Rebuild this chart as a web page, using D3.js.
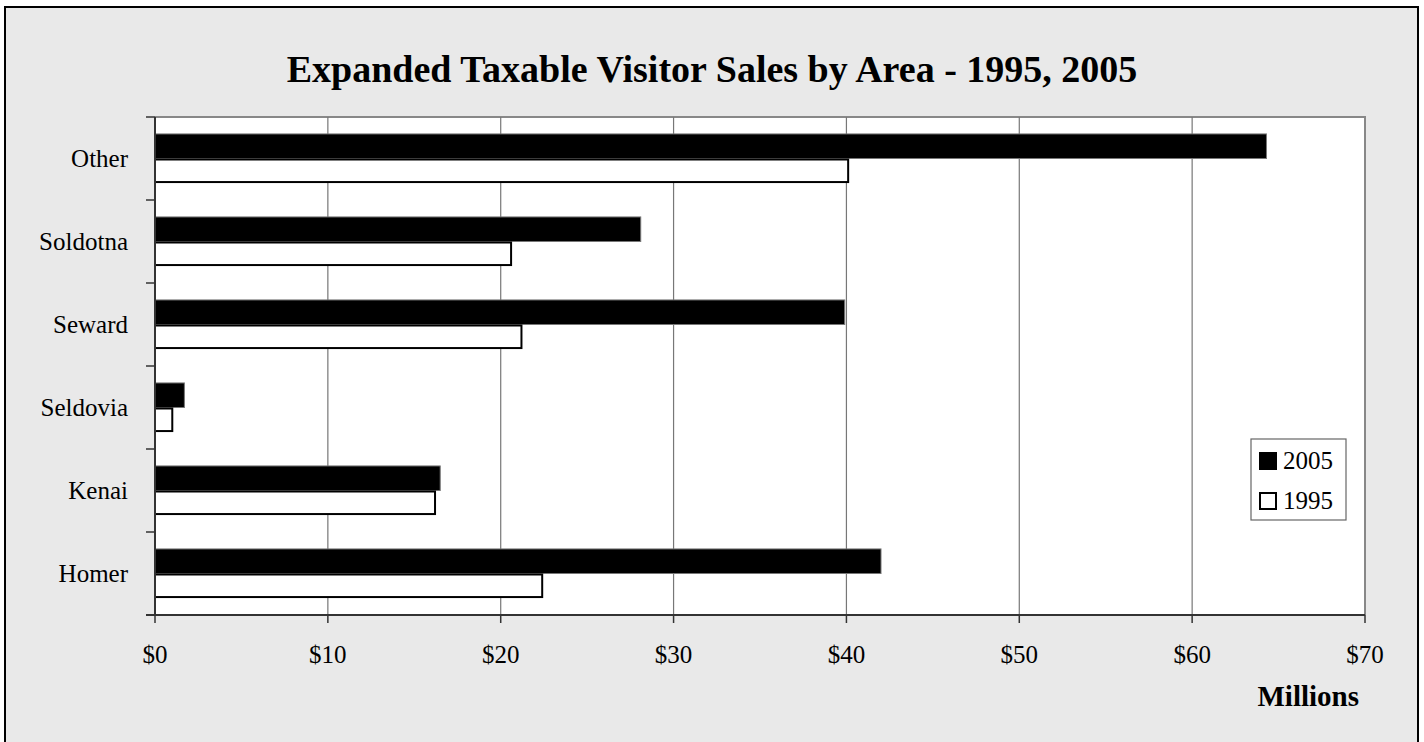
<!DOCTYPE html>
<html><head><meta charset="utf-8">
<script src="https://cdn.jsdelivr.net/npm/d3@7"></script>
<style>body{margin:0;background:#fff}svg{display:block}text{font-family:"Liberation Serif","Times New Roman",serif}</style>
</head><body>
<script>
const categories = ["Other","Soldotna","Seward","Seldovia","Kenai","Homer"];
const series = ["2005","1995"];
const values2005 = [64.3, 28.1, 39.9, 1.7, 16.5, 42.0];
const values1995 = [40.1, 20.6, 21.2, 1.0, 16.2, 22.4];
const xTicks = [0,10,20,30,40,50,60,70];
const tickLabels = ["$0","$10","$20","$30","$40","$50","$60","$70"];
const title = "Expanded Taxable Visitor Sales by Area - 1995, 2005";
const axisTitle = "Millions";

const W = 1424, H = 742;
const svg = d3.select("body").append("svg").attr("width", W).attr("height", H);
svg.append("rect").attr("x",5).attr("y",7).attr("width",1413).attr("height",760)
  .attr("fill","#e9e9e9").attr("stroke","#000").attr("stroke-width",2);

const L = 155, R = 1365, T = 117, B = 615;
const x = d3.scaleLinear().domain([0,70]).range([L,R]);
const y = d3.scaleBand().domain(categories).range([T,B]).padding(0);
const sub = d3.scaleBand().domain(series).range([0,y.bandwidth()]).paddingInner(0).paddingOuter(0.69);

svg.append("rect").attr("x",L).attr("y",T).attr("width",R-L).attr("height",B-T).attr("fill","#fff");
svg.append("path").attr("d",`M${L},${T}H${R}V${B}`).attr("fill","none").attr("stroke","#888").attr("stroke-width",2);
svg.append("g").selectAll("line").data(xTicks.slice(1,-1)).join("line")
  .attr("x1",d=>x(d)).attr("x2",d=>x(d)).attr("y1",T).attr("y2",B)
  .attr("stroke","#777").attr("stroke-width",1.2);

const data = categories.map((c,i)=>({c, v:{"2005":values2005[i],"1995":values1995[i]}}));
const g = svg.append("g");
data.forEach(d=>{
  g.append("rect").attr("x",x(0)).attr("y",y(d.c)+sub("2005"))
   .attr("width",x(d.v["2005"])-x(0)).attr("height",sub.bandwidth())
   .attr("fill","#000").attr("stroke","#777").attr("stroke-width",1);
  g.append("rect").attr("x",x(0)).attr("y",y(d.c)+sub("1995")+1)
   .attr("width",x(d.v["1995"])-x(0)).attr("height",sub.bandwidth()-2)
   .attr("fill","#fff").attr("stroke","#000").attr("stroke-width",2);
});

const yAxis = svg.append("g");
yAxis.append("line").attr("x1",L).attr("x2",L).attr("y1",T).attr("y2",B).attr("stroke","#333").attr("stroke-width",2);
const bounds = categories.map(c=>y(c)).concat([B]);
yAxis.selectAll("line.t").data(bounds).join("line").attr("class","t")
  .attr("x1",L-9).attr("x2",L).attr("y1",d=>d).attr("y2",d=>d).attr("stroke","#333").attr("stroke-width",1.5);
yAxis.selectAll("text").data(categories).join("text")
  .attr("x",128).attr("y",d=>y(d)+y.bandwidth()/2).attr("dy","0.33em")
  .attr("text-anchor","end").attr("font-size",25).text(d=>d);

const xAxis = svg.append("g");
xAxis.append("line").attr("x1",L-9).attr("x2",R).attr("y1",B).attr("y2",B).attr("stroke","#333").attr("stroke-width",2);
xAxis.selectAll("line.t").data(xTicks).join("line").attr("class","t")
  .attr("x1",d=>x(d)).attr("x2",d=>x(d)).attr("y1",B).attr("y2",B+8).attr("stroke","#333").attr("stroke-width",1.5);
xAxis.selectAll("text").data(xTicks).join("text")
  .attr("x",d=>x(d)).attr("y",663).attr("text-anchor","middle").attr("font-size",25)
  .text((d,i)=>tickLabels[i]);

svg.append("text").attr("x",1359).attr("y",706).attr("text-anchor","end")
  .attr("font-size",29).attr("font-weight","bold").text(axisTitle);

svg.append("text").attr("x",712).attr("y",82).attr("text-anchor","middle")
  .attr("font-size",38).attr("font-weight","bold").text(title);

const lg = svg.append("g");
lg.append("rect").attr("x",1251).attr("y",439).attr("width",95).attr("height",81)
  .attr("fill","#fff").attr("stroke","#666").attr("stroke-width",1.2);
series.forEach((s,i)=>{
  const cy = 460 + i*40;
  lg.append("rect").attr("x",i?1260:1259).attr("y",cy-8+(i?1:0)).attr("width",i?16:18).attr("height",i?16:18)
    .attr("fill",s==="2005"?"#000":"#fff").attr("stroke","#000").attr("stroke-width",i?2:0);
  lg.append("text").attr("x",1283).attr("y",cy).attr("dy","0.35em").attr("font-size",25).text(s);
});
</script>
</body></html>
